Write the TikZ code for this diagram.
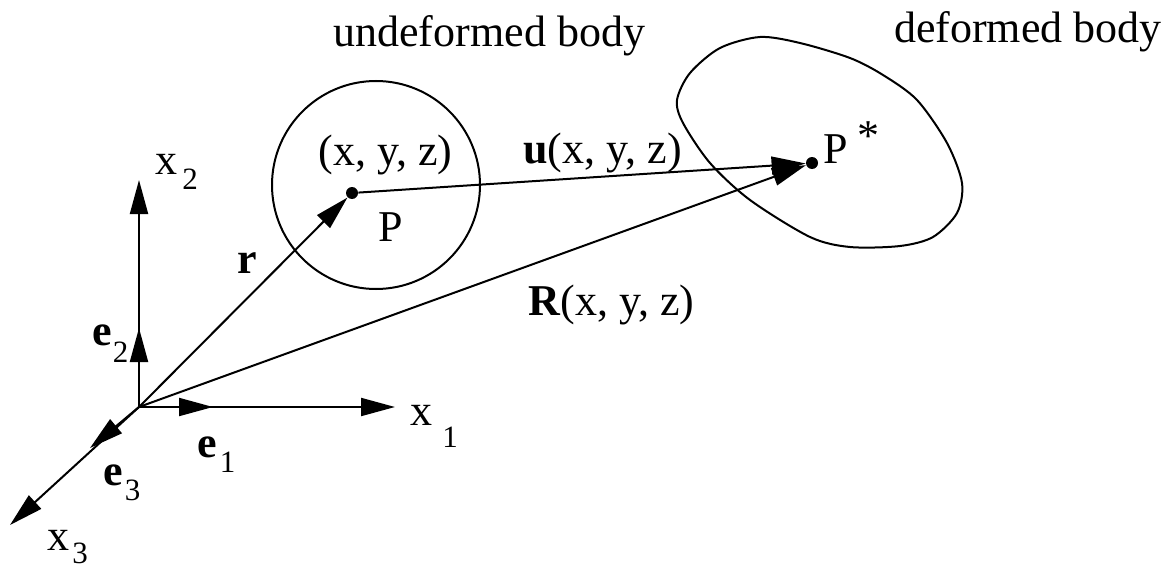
\documentclass[tikz,border=0pt]{standalone}
\usepackage{fontspec}
\setmainfont{Liberation Serif}
\usetikzlibrary{positioning, arrows.meta}
\newcommand{\axsub}[3]{\hspace{#1}\raisebox{-#2}{\fontsize{15.5}{16}\selectfont #3}}

\begin{document}
\begin{tikzpicture}[
        x=0.5pt, y=-0.5pt,
        lbl/.style={inner sep=0pt, anchor=base west, font=\fontsize{22}{26}\selectfont},
        vec/.style={line width=1pt, -{Triangle[length=17pt, width=9pt]}},
        dot/.style={circle, fill=black, inner sep=0pt, minimum size=6pt},
        body/.style={line width=1pt}
    ]
        \useasboundingbox (0,0) rectangle (1167,567);
        % axes
        \coordinate (O) at (139,407);
        \coordinate (X1) at (395,407);
        \coordinate (X2) at (139,180);
        \coordinate (X3) at (10,525);
        \coordinate (E1) at (213,407);
        \coordinate (E2) at (139,328);
        \coordinate (E3) at (90,448);
        \draw[vec] (O) -- (X1);
        \draw[vec] (O) -- (X2);
        \draw[vec] (O) -- (X3);
        \draw[vec] (O) -- (E1);
        \draw[vec] (O) -- (E2);
        \draw[vec] (O) -- (E3);
        \node[lbl] (x1) at (410,425) {x\axsub{5pt}{11pt}{1}};
        \node[lbl] (x2) at (155,175) {x\axsub{2.5pt}{7.5pt}{2}};
        \node[lbl] (x3) at (47,550) {x\axsub{1.5pt}{6.5pt}{3}};
        \node[lbl] (e1) at (197,457) {\textbf{e}\axsub{1.5pt}{7.5pt}{1}};
        \node[lbl] (e2) at (92,345) {\textbf{e}\axsub{0.5pt}{8.5pt}{2}};
        \node[lbl] (e3) at (103,485) {\textbf{e}\axsub{1pt}{7.5pt}{3}};
        % bodies
        \node[body, draw, circle, minimum size=104pt, inner sep=0pt] (undef) at (376,185) {};
        \draw[body] plot[smooth cycle] coordinates {(760,37) (800,43) (850,58) (883,75) (917,100) (947,143) (962,183) (957,213) (933,237) (900,246) (850,247) (810,237) (750,200) (710,163) (683,123) (677,100) (690,73) (720,48)};
        \node[lbl] (undeflabel) at (333,47) {undeformed body};
        \node[lbl, anchor=base east] (deflabel) at (1162,43) {deformed body};
        % points and vectors
        \node[dot] (P) at (352,193) {};
        \node[dot] (Ps) at (812,163) {};
        \draw[vec] (O) -- (P);
        \draw[vec] (P) -- (Ps);
        \draw[vec] (O) -- (Ps);
        \node[lbl] (xyz) at (318,165) {(x, y, z)};
        \node[lbl] (Plabel) at (378,241) {P};
        \node[lbl] (Pslabel) at (823,163) {P\hspace{5pt}\raisebox{6.5pt}{*}};
        \node[lbl] (rlabel) at (237,273) {\textbf{r}};
        \node[lbl] (ulabel) at (523,163) {\textbf{u}(x, y, z)};
        \node[lbl] (Rlabel) at (528,315) {\textbf{R}(x, y, z)};
    \end{tikzpicture}
\end{document}
